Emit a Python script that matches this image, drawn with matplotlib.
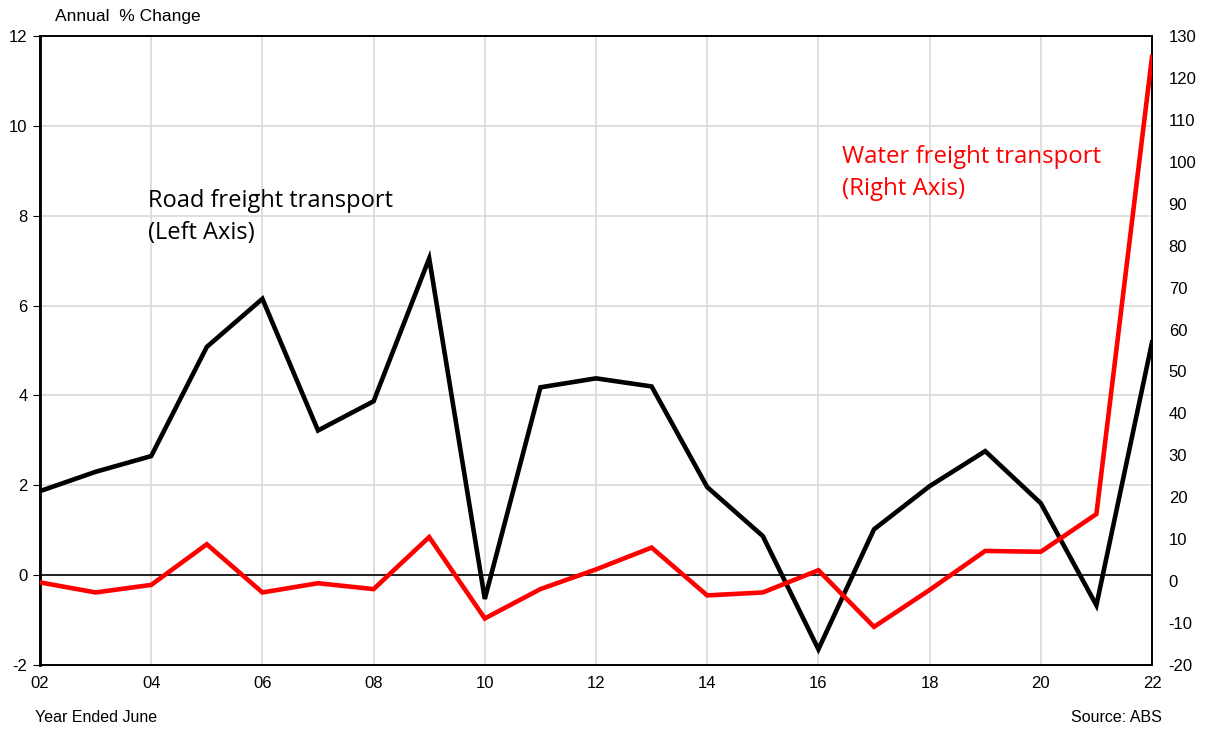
import matplotlib
matplotlib.use("Agg")
import matplotlib.pyplot as plt

years = list(range(2, 23))
road = [1.87, 2.3, 2.65, 5.08, 6.15, 3.22, 3.87, 7.05, -0.53, 4.18, 4.38, 4.2,
        1.96, 0.87, -1.65, 1.02, 1.98, 2.76, 1.6, -0.67, 5.18]
water = [-0.3, -2.7, -0.9, 8.8, -2.7, -0.5, -1.9, 10.5, -8.9, -1.9, 2.8, 8.0,
         -3.4, -2.7, 2.6, -10.9, -2.1, 7.2, 7.0, 16.0, 125.0]
left_ticks = [-2, 0, 2, 4, 6, 8, 10, 12]
right_ticks = list(range(-20, 131, 10))
x_ticks = list(range(2, 23, 2))
x_labels = [f"{v:02d}" for v in x_ticks]

plt.rcParams['font.family'] = ['Liberation Sans', 'DejaVu Sans']

fig = plt.figure(figsize=(12.07, 7.31), dpi=100)
ax = fig.add_axes([40/1207, 1 - 665/731, (1152-40)/1207, (665-36)/731])
ax2 = ax.twinx()

ax.set_xlim(2, 22)
ax.set_ylim(-2, 12)
ax2.set_ylim(-20, 130)

ax.set_xticks(x_ticks)
ax.set_xticklabels(x_labels, fontsize=12)
ax.set_yticks(left_ticks)
ax.set_yticklabels([str(v) for v in left_ticks], fontsize=12)
ax2.set_yticks(right_ticks)
ax2.set_yticklabels([str(v) for v in right_ticks], fontsize=12)

ax.grid(True, color='#d9d9d9', linewidth=1.2)
ax.set_axisbelow(True)
ax.axhline(0, color='black', linewidth=1.2, zorder=2)

ax.tick_params(axis='x', length=0, pad=8)
ax.tick_params(axis='y', length=5, direction='out', pad=4)
ax2.tick_params(axis='y', length=0, pad=12)

for a in (ax, ax2):
    for s in a.spines.values():
        s.set_color('black')
        s.set_linewidth(1.2)
ax.spines['left'].set_linewidth(2)

ax.plot(years, road, color='black', linewidth=3.3, zorder=3, solid_joinstyle='miter')
ax2.plot(years, water, color='#ff0000', linewidth=3.3, zorder=3, solid_joinstyle='miter')

fig.text(55/1207, 1 - 17/731, "Annual  % Change", fontsize=12.5, va='center', ha='left')
fig.text(35/1207, 1 - 717/731, "Year Ended June", fontsize=11.5, va='center', ha='left')
fig.text(1162/1207, 1 - 717/731, "Source: ABS", fontsize=11.5, va='center', ha='right')

ax.text(148/1207, 1 - 189/731, "Road freight transport\n(Left Axis)", transform=fig.transFigure,
        fontsize=17, family=['Open Sans', 'DejaVu Sans'], va='top', ha='left', color='black',
        linespacing=1.45)
ax.text(842/1207, 1 - 145/731, "Water freight transport\n(Right Axis)", transform=fig.transFigure,
        fontsize=17.3, family=['Open Sans', 'DejaVu Sans'], va='top', ha='left', color='#ff0000',
        linespacing=1.45)

fig.savefig("out.png", dpi=100)
